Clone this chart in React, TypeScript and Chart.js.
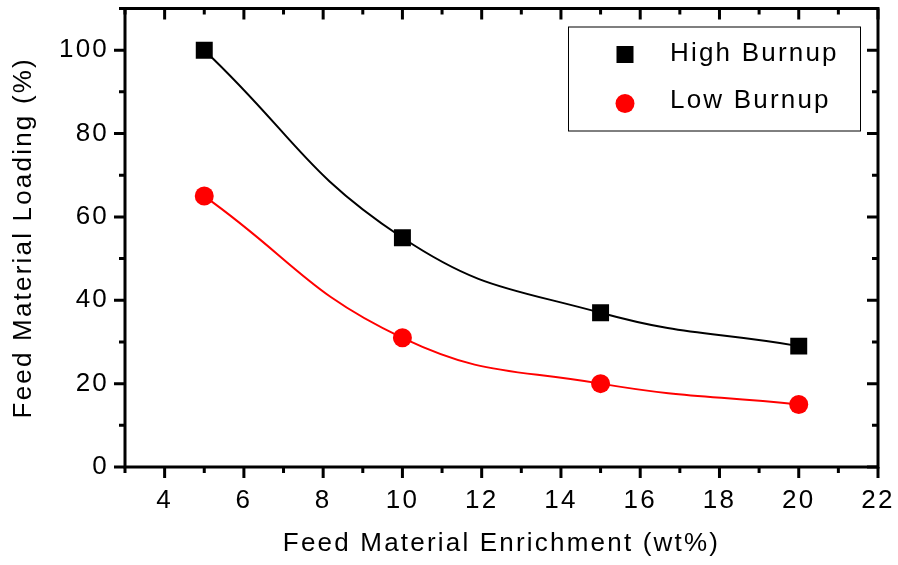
import React, { useEffect, useRef } from 'react';
import { Chart, registerables } from 'chart.js';

Chart.register(...registerables);

const enrichment = [5, 10, 15, 20];
const highBurnup = [100, 55, 37, 29];
const lowBurnup = [65, 31, 20, 15];
const seriesNames = ['High Burnup', 'Low Burnup'];
const seriesColors = ['#000000', '#ff0000'];
const xTitle = 'Feed Material Enrichment (wt%)';
const yTitle = 'Feed Material Loading (%)';
const xMin = 3;
const xMax = 22;
const yMin = 0;
const yMax = 110;

const FONT = '"Liberation Sans", Arial, sans-serif';
const FSIZE = 26;
const SPACING = '2.2px';

const spacingPlugin = {
  id: 'spacing',
  beforeLayout(chart: any) {
    chart.ctx.letterSpacing = SPACING;
  },
  beforeDraw(chart: any) {
    chart.ctx.letterSpacing = SPACING;
  },
};

const framePlugin = {
  id: 'frameTicks',
  afterDatasetsDraw(chart: any) {
    const { ctx, chartArea, scales } = chart;
    const { left, right, top, bottom } = chartArea;
    const x = scales.x;
    const y = scales.y;
    ctx.save();
    ctx.strokeStyle = '#000';
    ctx.lineWidth = 3;
    ctx.lineCap = 'butt';
    ctx.beginPath();
    for (const t of x.ticks) {
      const v = t.value;
      const px = x.getPixelForValue(v);
      const major = v % 2 === 0;
      const len = major ? 11 : 6;
      ctx.moveTo(px, bottom);
      ctx.lineTo(px, bottom + len);
      ctx.moveTo(px, top);
      ctx.lineTo(px, top + len);
    }
    for (const t of y.ticks) {
      const v = t.value;
      const py = y.getPixelForValue(v);
      const major = v % 20 === 0;
      const len = major ? 11 : 6;
      ctx.moveTo(left, py);
      ctx.lineTo(left - len, py);
      ctx.moveTo(right, py);
      ctx.lineTo(right - len, py);
    }
    ctx.stroke();
    ctx.strokeRect(left, top, right - left, bottom - top);
    ctx.restore();
  },
  afterDraw(chart: any) {
    const { ctx, chartArea } = chart;
    const bx = chartArea.right - 310;
    const by = chartArea.top + 18;
    const bw = 292;
    const bh = 104;
    ctx.save();
    ctx.strokeStyle = '#000';
    ctx.lineWidth = 1;
    ctx.strokeRect(bx + 0.5, by + 0.5, bw, bh);
    ctx.letterSpacing = SPACING;
    ctx.font = `${FSIZE}px ${FONT}`;
    ctx.textBaseline = 'middle';
    ctx.textAlign = 'left';
    ctx.fillStyle = seriesColors[0];
    ctx.fillRect(bx + 57 - 8.5, by + 28 - 8.5, 17, 17);
    ctx.fillStyle = '#000';
    ctx.fillText(seriesNames[0], bx + 102, by + 27);
    ctx.fillStyle = seriesColors[1];
    ctx.beginPath();
    ctx.arc(bx + 57, by + 77, 9.5, 0, Math.PI * 2);
    ctx.fill();
    ctx.fillStyle = '#000';
    ctx.fillText(seriesNames[1], bx + 102, by + 74.5);
    ctx.restore();
  },
};

const noPad = (s: any) => {
  s.paddingTop = 0;
  s.paddingBottom = 0;
  s.paddingLeft = 0;
  s.paddingRight = 0;
};

export default function App() {
  const ref = useRef<HTMLCanvasElement>(null);
  useEffect(() => {
    document.body.style.margin = '0';
    const canvas = ref.current!;
    const chart = new Chart(canvas, {
      type: 'line',
      data: {
        datasets: [
          {
            label: seriesNames[0],
            data: enrichment.map((x, i) => ({ x, y: highBurnup[i] })),
            borderColor: seriesColors[0],
            backgroundColor: seriesColors[0],
            borderWidth: 2,
            pointStyle: 'rect',
            pointRadius: 12,
            pointBorderWidth: 0,
            tension: 0.45,
          },
          {
            label: seriesNames[1],
            data: enrichment.map((x, i) => ({ x, y: lowBurnup[i] })),
            borderColor: seriesColors[1],
            backgroundColor: seriesColors[1],
            borderWidth: 2,
            pointStyle: 'circle',
            pointRadius: 9.5,
            pointBorderWidth: 0,
            tension: 0.45,
          },
        ],
      },
      options: {
        responsive: false,
        animation: false,
        devicePixelRatio: 1,
        layout: { autoPadding: false, padding: { top: 8.5, right: 20, left: 0, bottom: 0 } },
        plugins: {
          legend: { display: false },
          tooltip: { enabled: false },
        },
        scales: {
          x: {
            type: 'linear',
            min: xMin,
            max: xMax,
            grid: { display: false, drawTicks: false },
            border: { display: false },
            ticks: {
              stepSize: 1,
              autoSkip: false,
              maxRotation: 0,
              padding: 18,
              color: '#000',
              font: { family: FONT, size: FSIZE },
              callback: (v: any) => (v % 2 === 0 && v >= 4 ? String(v) : ''),
            },
            title: {
              display: true,
              text: xTitle,
              color: '#000',
              font: { family: FONT, size: FSIZE },
              padding: { top: 0, bottom: 6 },
            },
            afterFit: (s: any) => {
              s.height = 98;
              noPad(s);
            },
          },
          y: {
            type: 'linear',
            min: yMin,
            max: yMax,
            grid: { display: false, drawTicks: false },
            border: { display: false },
            ticks: {
              stepSize: 10,
              autoSkip: false,
              padding: 16,
              color: '#000',
              font: { family: FONT, size: FSIZE },
              callback: (v: any) => (v % 20 === 0 && v <= 100 ? String(v) : ''),
            },
            title: {
              display: true,
              text: yTitle,
              color: '#000',
              font: { family: FONT, size: FSIZE },
              padding: { top: 8, bottom: 0 },
            },
            afterFit: (s: any) => {
              s.width = 125;
              noPad(s);
            },
          },
        },
      },
      plugins: [spacingPlugin, framePlugin],
    } as any);
    return () => chart.destroy();
  }, []);
  return (
    <div style={{ width: 898, height: 565, background: '#fff' }}>
      <canvas ref={ref} width={898} height={565} style={{ display: 'block' }} />
    </div>
  );
}
